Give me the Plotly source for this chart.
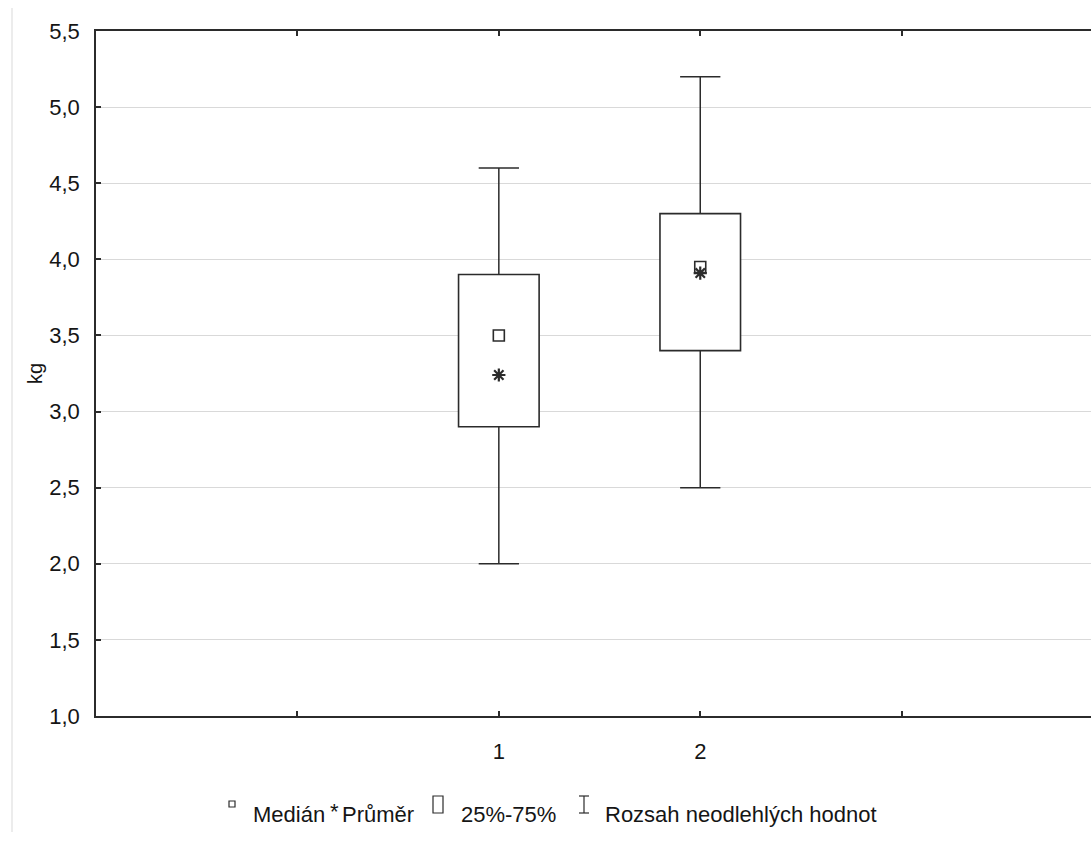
import plotly.graph_objects as go

# ---- data ----
groups = [1, 2]
q1 = [2.9, 3.4]
q3 = [3.9, 4.3]
medians = [3.5, 3.95]
means = [3.24, 3.91]
whisker_low = [2.0, 2.5]
whisker_high = [4.6, 5.2]
y_ticks = [1.0, 1.5, 2.0, 2.5, 3.0, 3.5, 4.0, 4.5, 5.0, 5.5]
x_tick_vals = [0, 1, 2, 3]
x_tick_text = ["", "1", "2", ""]

BOX_W = 0.4
CAP_W = 0.2
LINE = "#2b2b2b"
TXT = "#151515"
FONT = "Liberation Sans, Arial, sans-serif"

fig = go.Figure()

# boxes (25%-75%)
fig.add_trace(go.Bar(
    x=groups, y=[b - a for a, b in zip(q1, q3)], base=q1, width=BOX_W,
    marker=dict(color="white", line=dict(color=LINE, width=1.6)),
    showlegend=False, hoverinfo="skip"))

# whiskers
wx, wy = [], []
for g, a, b, lo, hi in zip(groups, q1, q3, whisker_low, whisker_high):
    wx += [g, g, None, g, g, None,
           g - CAP_W / 2, g + CAP_W / 2, None, g - CAP_W / 2, g + CAP_W / 2, None]
    wy += [b, hi, None, a, lo, None, hi, hi, None, lo, lo, None]
fig.add_trace(go.Scatter(x=wx, y=wy, mode="lines", line=dict(color=LINE, width=1.5),
                         showlegend=False, hoverinfo="skip"))

# medians
fig.add_trace(go.Scatter(x=groups, y=medians, mode="markers",
                         marker=dict(symbol="square-open", size=11, color=LINE, line=dict(width=1.6)),
                         showlegend=False))
# means
fig.add_trace(go.Scatter(x=groups, y=means, mode="markers",
                         marker=dict(symbol="asterisk-open", size=11, color=LINE, line=dict(width=2.2, color=LINE)),
                         showlegend=False))

W, H = 1091, 853
ML, MT, MB = 96, 31, 137
PW = W - ML
PH = H - MT - MB


def px(xp):
    return (xp - ML) / PW


def py(yp):
    return (H - MB - yp) / PH


fig.update_layout(
    width=W, height=H,
    margin=dict(l=ML, r=0, t=MT, b=MB),
    plot_bgcolor="white", paper_bgcolor="white",
    separators=",.",
    font=dict(family=FONT, size=22, color=TXT),
    xaxis=dict(range=[-1, 3.94], tickvals=x_tick_vals, ticktext=x_tick_text,
               showgrid=False, zeroline=False, showline=True, linecolor=LINE, linewidth=1.6,
               mirror="ticks", ticks="inside", ticklen=5, tickcolor=LINE, tickwidth=1.5,
               ticklabelstandoff=15, tickfont=dict(size=22, color=TXT)),
    yaxis=dict(range=[1.0, 5.5], tickvals=y_ticks, tickformat=".1f",
               showgrid=True, gridcolor="#d9d9d9", gridwidth=1, zeroline=False,
               showline=True, linecolor=LINE, linewidth=1.6, mirror=False,
               ticks="inside", ticklen=5, tickcolor=LINE, tickwidth=1.5,
               ticklabelstandoff=10, tickfont=dict(size=22, color=TXT)),
)

shapes = []
annotations = []
# y title
annotations.append(dict(text="kg", xref="paper", yref="paper", x=px(35), y=py(374),
                        textangle=-90, showarrow=False, font=dict(size=20, color=TXT),
                        xanchor="center", yanchor="middle"))
# left faint frame line
shapes.append(dict(type="line", xref="paper", yref="paper", x0=px(12), x1=px(12),
                   y0=py(8), y1=py(832), line=dict(color="#ececec", width=2)))

LY = 814
LF = 22
# legend: median symbol
shapes.append(dict(type="rect", xref="paper", yref="paper", x0=px(229), x1=px(235),
                   y0=py(801), y1=py(807), line=dict(color=LINE, width=1.2)))
annotations.append(dict(text="Medián", xref="paper", yref="paper", x=px(251), y=py(LY),
                        xanchor="left", yanchor="middle", showarrow=False, font=dict(size=LF)))
annotations.append(dict(text="*", xref="paper", yref="paper", x=px(334), y=py(LY - 3),
                        xanchor="center", yanchor="middle", showarrow=False, font=dict(size=LF)))
annotations.append(dict(text="Průměr", xref="paper", yref="paper", x=px(340), y=py(LY),
                        xanchor="left", yanchor="middle", showarrow=False, font=dict(size=LF)))
shapes.append(dict(type="rect", xref="paper", yref="paper", x0=px(433), x1=px(443),
                   y0=py(796), y1=py(813), line=dict(color=LINE, width=1.2)))
annotations.append(dict(text="25%-75%", xref="paper", yref="paper", x=px(459), y=py(LY),
                        xanchor="left", yanchor="middle", showarrow=False, font=dict(size=LF)))
# I-beam symbol
for (x0, y0, x1, y1) in [(584, 796, 584, 813), (579, 796, 589, 796), (579, 813, 589, 813)]:
    shapes.append(dict(type="line", xref="paper", yref="paper", x0=px(x0), x1=px(x1),
                       y0=py(y0), y1=py(y1), line=dict(color=LINE, width=1.2)))
annotations.append(dict(text="Rozsah neodlehlých hodnot", xref="paper", yref="paper", x=px(603), y=py(LY),
                        xanchor="left", yanchor="middle", showarrow=False, font=dict(size=LF)))

fig.update_layout(shapes=shapes, annotations=annotations)
fig.write_html("out.html")
